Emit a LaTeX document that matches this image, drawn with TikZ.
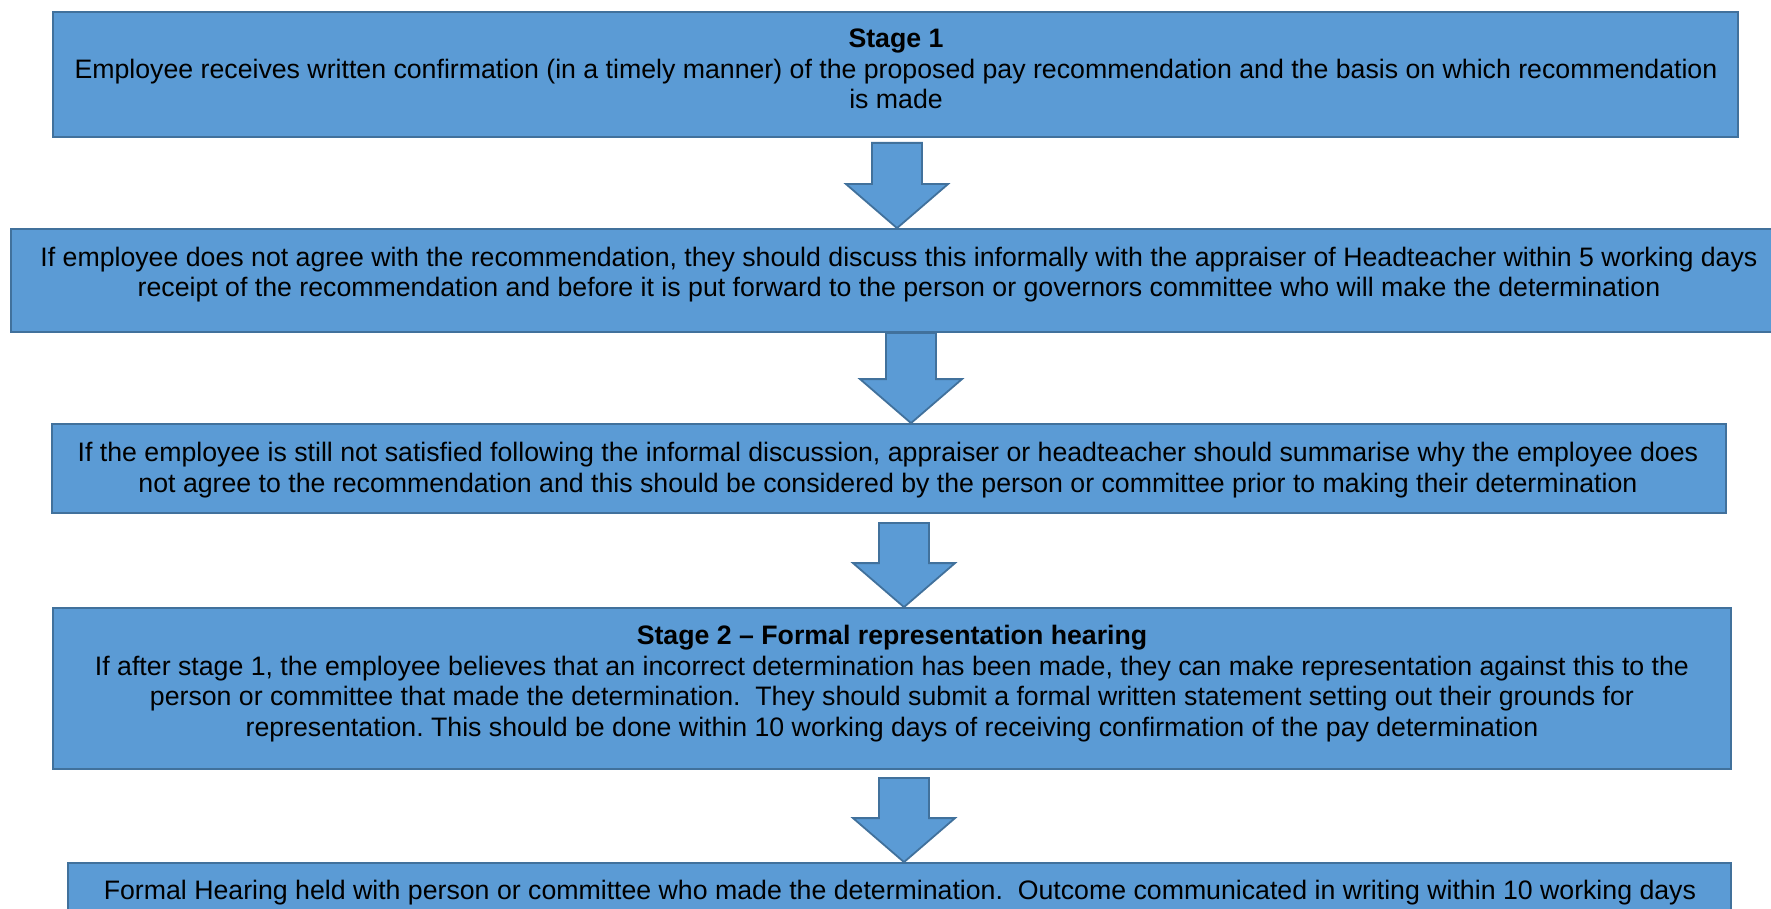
\documentclass[tikz,border=0pt]{standalone}
\usepackage{fontspec}
\setmainfont{Liberation Sans}
\usetikzlibrary{calc}
\definecolor{boxfill}{HTML}{5B9BD5}
\definecolor{boxline}{HTML}{41719C}
\tikzset{
  box/.style={draw=boxline, fill=boxfill, line width=1.8pt, inner sep=0pt, rectangle},
  txt/.style={align=center, inner sep=0pt, font=\fontsize{26.7}{30.5}\selectfont\frenchspacing, text=black},
  barrow/.style={draw=boxline, fill=boxfill, line width=1.8pt, line join=miter}
}
\newcommand\blockarrow[4]{%
  \draw[barrow] let \p1=($(#1.south)+(#3,-#4)$), \p2=($(#2.north)+(#3,0)$) in
    (\x1-25pt,\y1) -- (\x1+25pt,\y1) -- (\x1+25pt,\y2+44pt) -- (\x1+51pt,\y2+44pt)
    -- (\x1,\y2) -- (\x1-51pt,\y2+44pt) -- (\x1-25pt,\y2+44pt) -- cycle;}
\begin{document}
\begin{tikzpicture}[x=1pt,y=1pt]
\useasboundingbox (0,0) rectangle (1771,-909);
\clip (0,0) rectangle (1771,-909);
\node[box, minimum width=1685pt, minimum height=125pt] (b1) at (895.5,-74.5) {};
\node[box, minimum width=1776pt, minimum height=103pt] (b2) at (899,-280.5) {};
\node[box, minimum width=1674pt, minimum height=89pt] (b3) at (889,-468.5) {};
\node[box, minimum width=1678pt, minimum height=161pt] (b4) at (892,-688.5) {};
\node[box, minimum width=1663pt, minimum height=70pt] (b5) at (899.5,-898) {};

\node[txt] (t1) at (896,-69) {\textbf{Stage 1}\\Employee receives written confirmation (in a timely manner) of the proposed pay recommendation and the basis on which recommendation\\is made};
\node[txt] (t2) at (899,-274.5) {If employee does not agree with the recommendation, they should discuss this informally with the appraiser of Headteacher within 5 working days\\receipt of the recommendation and before it is put forward to the person or governors committee who will make the determination};
\node[txt] (t3) at (888,-470) {If the employee is still not satisfied following the informal discussion, appraiser or headteacher should summarise why the employee does\\not agree to the recommendation and this should be considered by the person or committee prior to making their determination};
\node[txt] (t4) at (892,-683.5) {\textbf{Stage 2 – Formal representation hearing}\\If after stage 1, the employee believes that an incorrect determination has been made, they can make representation against this to the\\person or committee that made the determination.\ \ They should submit a formal written statement setting out their grounds for\\representation. This should be done within 10 working days of receiving confirmation of the pay determination};
\node[txt] (t5) at (900,-893) {Formal Hearing held with person or committee who made the determination.\ \ Outcome communicated in writing within 10 working days};

\blockarrow{b1}{b2}{1.5}{5}
\blockarrow{b2}{b3}{12}{0}
\blockarrow{b3}{b4}{15}{9}
\blockarrow{b4}{b5}{12}{8}
\end{tikzpicture}
\end{document}
